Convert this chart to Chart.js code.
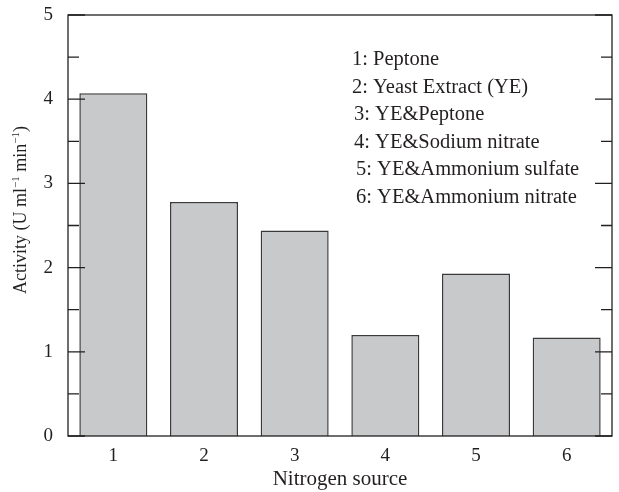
<!DOCTYPE html>
<html>
<head>
<meta charset="utf-8">
<script src="https://cdn.jsdelivr.net/npm/chart.js@4.4.1/dist/chart.umd.min.js"></script>
<style>
  html, body { margin: 0; padding: 0; background: #fff; }
  #wrap { width: 619px; height: 492px; }
</style>
</head>
<body>
<div id="wrap"><canvas id="myChart" width="619" height="492"></canvas></div>
<script>
// Data
const categories = ["1", "2", "3", "4", "5", "6"];
const activity = [4.07, 2.78, 2.44, 1.2, 1.93, 1.17];
const legendLines = [
  "1: Peptone",
  "2: Yeast Extract (YE)",
  "3: YE&Peptone",
  "4: YE&Sodium nitrate",
  "5: YE&Ammonium sulfate",
  "6: YE&Ammonium nitrate",
];
const yTicks = [0, 1, 2, 3, 4, 5];

const ink = "#231f20";
const serif = "'Liberation Serif', 'DejaVu Serif', serif";

// Box, inward ticks, legend text and the y title with superscripts
const decorations = {
  id: "decorations",
  afterDraw(chart) {
    const { ctx, chartArea: a, scales } = chart;
    const y = scales.y;
    ctx.save();
    ctx.strokeStyle = ink;
    ctx.lineWidth = 1.3;
    ctx.strokeRect(a.left, a.top, a.right - a.left, a.bottom - a.top);

    // ticks every 0.5 on both sides, pointing inwards
    for (let v = 0; v <= 5; v += 0.5) {
      const py = y.getPixelForValue(v);
      const len = v % 1 === 0 ? 17 : 11;
      ctx.beginPath();
      ctx.moveTo(a.left, py);
      ctx.lineTo(a.left + len, py);
      ctx.moveTo(a.right, py);
      ctx.lineTo(a.right - len, py);
      ctx.stroke();
    }

    // text list in the top right
    ctx.fillStyle = ink;
    ctx.font = "20.5px " + serif;
    ctx.textBaseline = "alphabetic";
    ctx.textAlign = "left";
    const shift = [0, 0, 2, 2, 4, 4];
    legendLines.forEach((line, i) => {
      ctx.fillText(line, a.left + 284 + shift[i], a.top + 50 + i * 27.6);
    });

    // y axis title, rotated, with superscript -1
    const parts = [
      ["Activity (U ml", false],
      ["\u22121", true],
      [" min", false],
      ["\u22121", true],
      [")", false],
    ];
    const big = "18px " + serif;
    const small = "11px " + serif;
    let total = 0;
    parts.forEach(([t, sup]) => {
      ctx.font = sup ? small : big;
      total += ctx.measureText(t).width;
    });
    ctx.translate(26, 210);
    ctx.rotate(-Math.PI / 2);
    let x = -total / 2;
    parts.forEach(([t, sup]) => {
      ctx.font = sup ? small : big;
      ctx.fillText(t, x, sup ? -7 : 0);
      x += ctx.measureText(t).width;
    });
    ctx.restore();
  },
};

const ctx = document.getElementById("myChart").getContext("2d");
new Chart(ctx, {
  type: "bar",
  data: {
    labels: categories,
    datasets: [
      {
        data: activity,
        backgroundColor: "#c8c9cb",
        borderColor: "#3a3a3a",
        borderWidth: 1.5,
        barPercentage: 0.75,
        categoryPercentage: 1,
      },
    ],
  },
  options: {
    responsive: false,
    animation: false,
    layout: { padding: { top: 15, right: 7, left: 0, bottom: 0 } },
    plugins: {
      legend: { display: false },
      tooltip: { enabled: false },
    },
    scales: {
      x: {
        grid: { display: false, drawTicks: false },
        border: { display: false },
        ticks: { color: ink, padding: 9, font: { family: serif, size: 19 } },
        title: {
          display: true,
          text: "Nitrogen source",
          color: ink,
          font: { family: serif, size: 21 },
          padding: { top: 0, bottom: 0 },
        },
        afterFit(scale) {
          scale.height = 56;
          scale.paddingLeft = 0;
          scale.paddingRight = 0;
        },
      },
      y: {
        min: 0,
        max: 5,
        afterBuildTicks(scale) {
          scale.ticks = yTicks.map((v) => ({ value: v }));
        },
        grid: { display: false, drawTicks: false },
        border: { display: false },
        ticks: { color: ink, padding: 15, font: { family: serif, size: 19 } },
        afterFit(scale) {
          scale.width = 68;
          scale.paddingTop = 0;
          scale.paddingBottom = 0;
        },
      },
    },
  },
  plugins: [decorations],
});
</script>
</body>
</html>
